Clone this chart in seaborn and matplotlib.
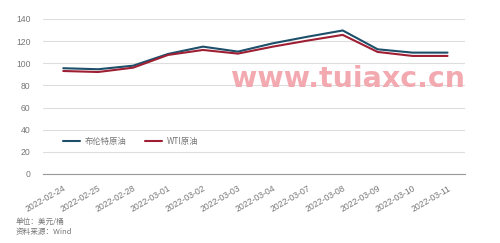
import matplotlib
matplotlib.use("Agg")
import matplotlib.pyplot as plt
import matplotlib.transforms as mtransforms
import seaborn as sns
import pandas as pd

dates = ["2022-02-24", "2022-02-25", "2022-02-28", "2022-03-01", "2022-03-02",
         "2022-03-03", "2022-03-04", "2022-03-07", "2022-03-08", "2022-03-09",
         "2022-03-10", "2022-03-11"]
brent = [95.5, 94.6, 97.8, 108.4, 115.0, 110.5, 118.0, 124.0, 129.6, 112.6, 109.6, 109.6]
wti = [93.0, 92.1, 96.0, 107.5, 112.0, 108.7, 115.0, 120.5, 125.6, 110.2, 106.6, 106.6]
series_names = ["布伦特原油", "WTI原油"]
colors = ["#1d4f6b", "#9e1f34"]
yticks = [0, 20, 40, 60, 80, 100, 120, 140]

sns.set_theme(style="white")
plt.rcParams['font.family'] = ['Liberation Sans', 'Noto Sans CJK SC', 'DejaVu Sans']

df = pd.DataFrame({
    "date": dates * 2,
    "value": brent + wti,
    "series": [series_names[0]] * len(dates) + [series_names[1]] * len(dates),
})
df["x"] = list(range(len(dates))) * 2

fig = plt.figure(figsize=(5.0, 2.43), dpi=100)
ax = fig.add_axes([0.086, 0.284, 0.844, 0.638])

sns.lineplot(data=df, x="x", y="value", hue="series", palette=colors,
             hue_order=series_names, linewidth=1.5, ax=ax, legend=True)

ax.set_xlim(-0.58, 11.5)
ax.set_ylim(0, 140)
ax.set_yticks(yticks)
ax.set_yticklabels([str(v) for v in yticks], color="#777777", fontsize=6.2)
ax.set_xticks(range(len(dates)))
ax.set_xticklabels(dates, rotation=30, ha="right", rotation_mode="anchor",
                   color="#777777", fontsize=6.2)
offset = mtransforms.ScaledTranslation(4 / 100, 0, fig.dpi_scale_trans)
for lbl in ax.get_xticklabels():
    lbl.set_transform(lbl.get_transform() + offset)
ax.set_xlabel("")
ax.set_ylabel("")
ax.grid(axis="y", color="#dddddd", linewidth=0.8)
ax.set_axisbelow(True)
for s in ["top", "right", "left"]:
    ax.spines[s].set_visible(False)
ax.spines["bottom"].set_color("#999999")
ax.spines["bottom"].set_linewidth(0.8)
ax.tick_params(axis="x", direction="in", length=3, width=0.8, color="#999999", pad=7)
ax.tick_params(axis="y", length=0, pad=9)

leg = ax.legend(loc="center left", bbox_to_anchor=(0.03, 0.21), ncol=2, frameon=False,
                prop={"family": ["Noto Sans CJK SC", "DejaVu Sans"], "size": 6},
                handlelength=2.0, columnspacing=2.2, handletextpad=0.6)
for t in leg.get_texts():
    t.set_color("#777777")

fig.text(0.032, 0.078, "单位：美元/桶", fontsize=5.5, color="#777777", style="italic",
         family=["Noto Sans CJK SC", "DejaVu Sans"])
fig.text(0.032, 0.036, "资料来源：Wind", fontsize=5.5, color="#777777", style="italic",
         family=["Noto Sans CJK SC", "DejaVu Sans"])

fig.text(0.93, 0.64, "www.tuiaxc.cn", fontsize=20.5, color="#f2a0a8", alpha=0.9,
         ha="right", va="baseline", fontweight="bold", family="DejaVu Sans")

fig.savefig("out.png", dpi=100)
